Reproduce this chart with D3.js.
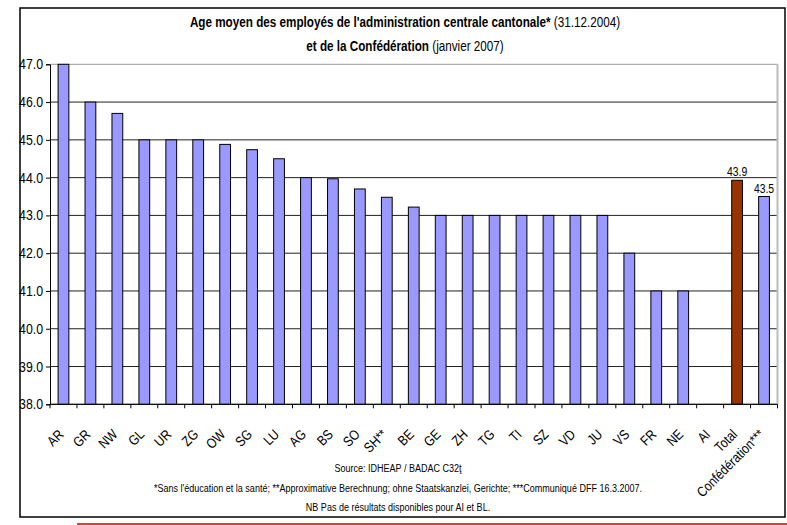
<!DOCTYPE html>
<html>
<head>
<meta charset="utf-8">
<script src="https://d3js.org/d3.v7.min.js"></script>
<style>
body { margin: 0; background: #fff; }
text { font-family: "Liberation Sans", Arial, sans-serif; fill: #000; }
</style>
</head>
<body>
<script>
var width = 787, height = 525;

var cantons = ["AR", "GR", "NW", "GL", "UR", "ZG", "OW", "SG", "LU", "AG", "BS", "SO", "SH**", "BE", "GE",
    "ZH", "TG", "TI", "SZ", "VD", "JU", "VS", "FR", "NE", "AI", "Total", "Confédération***"];
var ages = [47.0, 46.0, 45.7, 45.0, 45.0, 45.0, 44.88, 44.74, 44.5, 44.0, 43.97, 43.7, 43.48, 43.22, 43.0,
    43.0, 43.0, 43.0, 43.0, 43.0, 43.0, 42.0, 41.0, 41.0, null, 43.93, 43.5];
var yTicks = [38, 39, 40, 41, 42, 43, 44, 45, 46, 47];
var labelled = ["Total", "Confédération***"];
var footer = [
    "Source: IDHEAP / BADAC C32ţ",
    "*Sans l'éducation et la santé; **Approximative Berechnung; ohne Staatskanzlei, Gerichte; ***Communiqué DFF 16.3.2007.",
    "NB Pas de résultats disponibles pour AI et BL."
];

// pas de police étroite installée : on compresse horizontalement
var squeeze = 0.8;

var svg = d3.select("body")
    .append("svg")
    .attr("width", width)
    .attr("height", height);

// cadre
svg.append("rect")
    .attr("x", 20).attr("y", 8)
    .attr("width", 765).attr("height", 509)
    .attr("fill", "none")
    .attr("stroke", "#000")
    .attr("stroke-width", 1.5);

svg.append("line")
    .attr("x1", 77).attr("x2", 787)
    .attr("y1", 524).attr("y2", 524)
    .attr("stroke", "#cc0000")
    .attr("stroke-width", 1.5);

var title = svg.append("g")
    .attr("transform", "translate(405,0) scale(0.78,1)")
    .attr("text-anchor", "middle")
    .style("font-size", "15px");
var t1 = title.append("text").attr("x", 0).attr("y", 27);
t1.append("tspan").attr("font-weight", "bold").text("Age moyen des employés de l'administration centrale cantonale*");
t1.append("tspan").text(" (31.12.2004)");
var t2 = title.append("text").attr("x", 0).attr("y", 51);
t2.append("tspan").attr("font-weight", "bold").text("et de la Confédération");
t2.append("tspan").text(" (janvier 2007)");

var plotL = 50, plotR = 777.5, plotT = 64.3, plotB = 404.3;

var x = d3.scaleBand()
    .domain(cantons)
    .range([plotL, plotR])
    .paddingInner(0.6)
    .paddingOuter(0.3);

var y = d3.scaleLinear()
    .domain([38, 47])
    .range([plotB, plotT]);

// grille
svg.append("g")
    .selectAll("line")
    .data(yTicks)
    .enter()
    .append("line")
    .attr("x1", plotL).attr("x2", plotR)
    .attr("y1", function(d) { return y(d); })
    .attr("y2", function(d) { return y(d); })
    .attr("stroke", function(d) { return d == 47 ? "#999" : "#222"; })
    .attr("stroke-width", 1);

svg.append("line")
    .attr("x1", plotR).attr("x2", plotR)
    .attr("y1", plotT).attr("y2", plotB)
    .attr("stroke", "#bbb")
    .attr("stroke-width", 2);

// barres
svg.append("g")
    .selectAll("rect")
    .data(cantons.filter(function(c, i) { return ages[i] != null; }))
    .enter()
    .append("rect")
    .attr("x", function(c) { return x(c); })
    .attr("width", x.bandwidth())
    .attr("y", function(c) { return y(ages[cantons.indexOf(c)]); })
    .attr("height", function(c) { return plotB - y(ages[cantons.indexOf(c)]); })
    .attr("fill", function(c) { return c == "Total" ? "#993300" : "#9999ff"; })
    .attr("stroke", "#000")
    .attr("stroke-width", 1);

svg.append("g")
    .selectAll("text")
    .data(labelled)
    .enter()
    .append("text")
    .attr("transform", function(c) {
        return "translate(" + (x(c) + x.bandwidth() / 2) + "," + (y(ages[cantons.indexOf(c)]) - 4) + ") scale(" + squeeze + ",1)";
    })
    .attr("text-anchor", "middle")
    .style("font-size", "13px")
    .text(function(c) { return ages[cantons.indexOf(c)].toFixed(1); });

// axe y
var yAxis = svg.append("g")
    .attr("transform", "translate(" + plotL + ",0)")
    .call(d3.axisLeft(y).tickValues(yTicks).tickSize(4).tickPadding(0).tickFormat(d3.format(".1f")));
yAxis.select(".domain").attr("stroke", "#000");
yAxis.selectAll(".tick text")
    .attr("x", null)
    .attr("transform", "translate(-7,0) scale(0.88,1)")
    .style("font-size", "14px")
    .attr("font-family", "Liberation Sans, Arial, sans-serif")
    .attr("fill", "#000");

// axe x
var step = x.step();
var xAxis = svg.append("g").attr("transform", "translate(0," + plotB + ")");
xAxis.append("line")
    .attr("x1", plotL).attr("x2", plotR)
    .attr("stroke", "#000");
xAxis.selectAll(".tk")
    .data(d3.range(cantons.length + 1))
    .enter()
    .append("line")
    .attr("class", "tk")
    .attr("x1", function(i) { return plotL + i * step; })
    .attr("x2", function(i) { return plotL + i * step; })
    .attr("y1", 0).attr("y2", 4)
    .attr("stroke", "#000");
xAxis.selectAll(".lab")
    .data(cantons)
    .enter()
    .append("text")
    .attr("class", "lab")
    .attr("text-anchor", "end")
    .style("font-size", "14px")
    .attr("transform", function(c) {
        return "translate(" + (x(c) + x.bandwidth() / 2 + 1) + ",31) rotate(-45) scale(0.85,1)";
    })
    .text(function(c) { return c; });

// notes
svg.append("g")
    .selectAll("text")
    .data(footer)
    .enter()
    .append("text")
    .attr("transform", function(d, i) { return "translate(398," + (472 + i * 19.5) + ") scale(0.82,1)"; })
    .attr("text-anchor", "middle")
    .style("font-size", "11px")
    .text(function(d) { return d; });
</script>
</body>
</html>
